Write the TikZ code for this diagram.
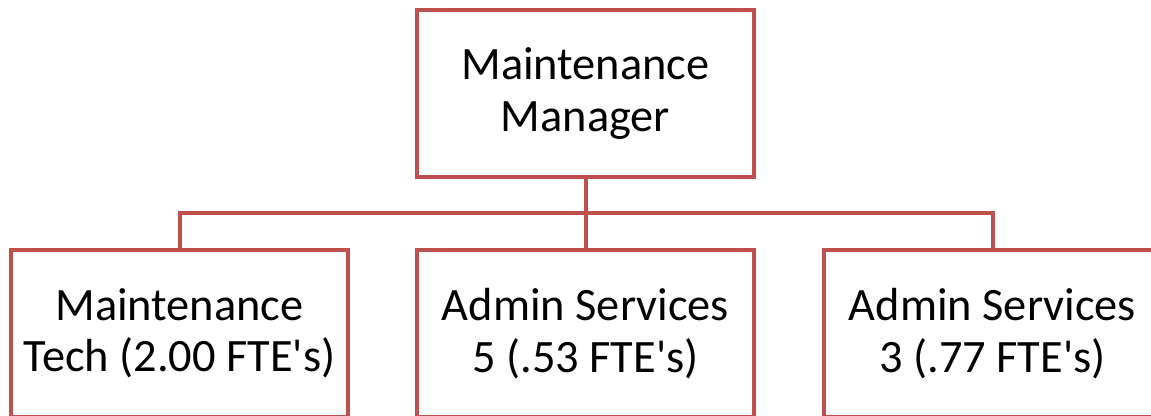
\documentclass[tikz,border=0pt]{standalone}
\usepackage{fontspec}
\setmainfont{Carlito}
\usetikzlibrary{positioning}

\definecolor{orgred}{RGB}{192,80,77}

\begin{document}
\begin{tikzpicture}[
  x=0.75pt, y=-0.75pt,
  unit/.style={rectangle, draw=orgred, line width=3pt, fill=white,
               minimum width=252.75pt, minimum height=125.25pt,
               align=center, inner sep=0pt,
               font=\fontsize{34.8}{38.5}\selectfont},
  link/.style={draw=orgred, line width=3pt},
]
\useasboundingbox (0,0) rectangle (1151,415);
\clip (0,0) rectangle (1151,415);

% Manager on top, three units in a row below
\node[unit] (mgr) at (585.5,93.5) {Maintenance\\Manager};
\node[unit, below=51.75pt of mgr] (svcfive) {Admin Services\\5 (.53 FTE\textquotesingle s)};
\node[unit, left=48.75pt of svcfive] (tech) {Maintenance\\Tech (2.00 FTE\textquotesingle s)};
\node[unit, right=49.5pt of svcfive] (svcthree) {Admin Services\\3 (.77 FTE\textquotesingle s)};

% --- Connectors through one horizontal bus ---
\coordinate (bus) at (585.5,213);
\draw[link] (mgr.south) -- (bus);
\draw[link] (tech.north) |- (bus);
\draw[link] (svcthree.north) |- (bus);
\draw[link] (svcfive.north) -- (svcfive.north |- bus);

\end{tikzpicture}
\end{document}
